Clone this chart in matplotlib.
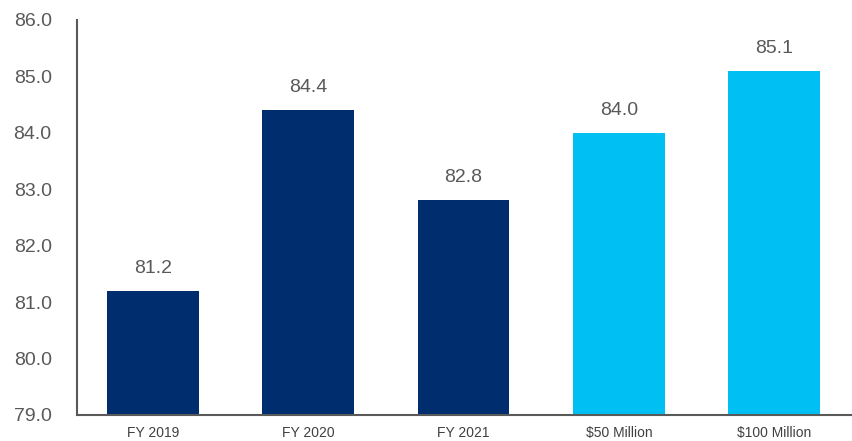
import matplotlib.pyplot as plt

categories = ["FY 2019", "FY 2020", "FY 2021", "$50 Million", "$100 Million"]
values = [81.2, 84.4, 82.8, 84.0, 85.1]
colors = ["#002D6E", "#002D6E", "#002D6E", "#00BFF3", "#00BFF3"]

plt.rcParams['font.family'] = ['Liberation Sans', 'DejaVu Sans']
grey = "#595959"

fig = plt.figure(figsize=(8.52, 4.41), dpi=100)
ax = fig.add_axes([0.09, 0.059, 0.91, 0.896])

x = range(len(categories))
ax.bar(x, [v - 79 for v in values], bottom=79, width=0.59, color=colors)

for i, v in enumerate(values):
    ax.text(i, v + 0.25, f"{v:.1f}", ha="center", va="bottom", fontsize=14, color=grey)

ax.set_ylim(79, 86)
ax.set_xlim(-0.49, 4.5)
ax.set_yticks([79, 80, 81, 82, 83, 84, 85, 86])
ax.set_yticklabels([f"{t:.1f}" for t in range(79, 87)])
ax.set_xticks(list(x))
ax.set_xticklabels(categories)

ax.tick_params(axis="y", length=0, labelsize=14, labelcolor=grey, pad=18)
ax.tick_params(axis="x", length=0, labelsize=10, labelcolor="#404040", pad=8)

for s in ["top", "right"]:
    ax.spines[s].set_visible(False)
for s in ["left", "bottom"]:
    ax.spines[s].set_color(grey)
    ax.spines[s].set_linewidth(1.5)

fig.savefig("out.png", dpi=100)
